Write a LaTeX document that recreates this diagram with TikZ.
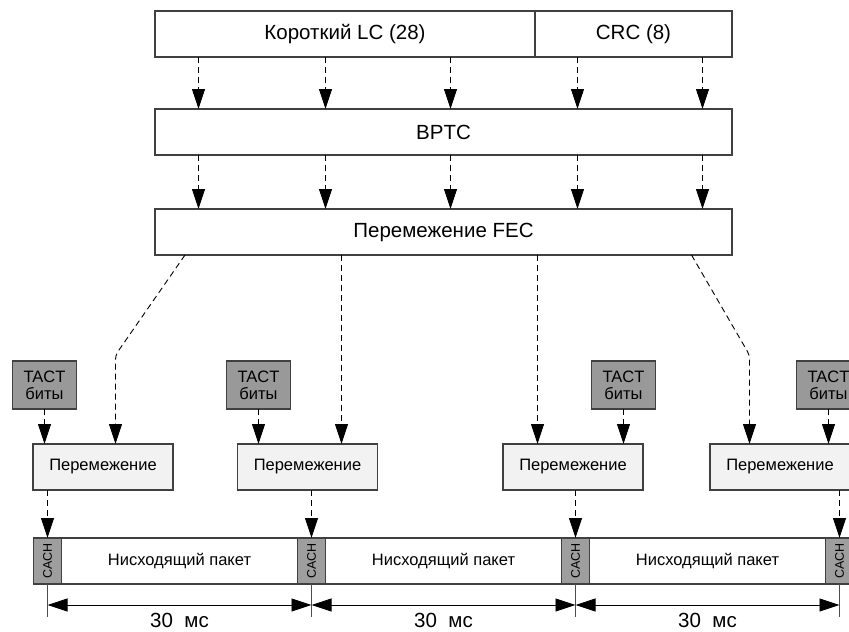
\documentclass[tikz,border=0pt]{standalone}
\usepackage{fontspec}
\setmainfont{Liberation Sans}
\usetikzlibrary{positioning}
\usetikzlibrary{arrows.meta}
\tikzset{>={Triangle[width=13pt,length=20pt]}}

\begin{document}
\begin{tikzpicture}[x=1pt, y=-1pt, bignode/.style={rectangle, draw=black!75, fill=white, line width=1.2pt, minimum height=46pt, inner sep=0pt, outer sep=0pt, font=\fontsize{20.5}{24}\selectfont}, tactnode/.style={rectangle, draw=black!75, fill=black!40, line width=1.2pt, minimum width=64pt, minimum height=48pt, inner sep=0pt, outer sep=0pt, align=center, font=\fontsize{16.5}{17}\selectfont}, mixnode/.style={rectangle, draw=black!75, fill=black!5, line width=1.2pt, minimum width=140pt, minimum height=46pt, inner sep=0pt, outer sep=0pt, font=\fontsize{16.5}{20}\selectfont}, cachnode/.style={rectangle, draw=black!75, fill=black!38, line width=1.2pt, minimum width=28pt, minimum height=46pt, inner sep=0pt, outer sep=0pt, label={[rotate=90, font=\fontsize{12.5}{12.5}\selectfont]center:CACH}}, pktnode/.style={rectangle, draw=black!75, fill=white, line width=1.2pt, minimum width=236pt, minimum height=46pt, inner sep=0pt, outer sep=0pt, font=\fontsize{16.5}{20}\selectfont}, flow/.style={->, dash pattern=on 6pt off 4pt, line width=0.9pt, black}]
    \useasboundingbox (0,0) rectangle (849,632);

    %Nodes
    \node[bignode, minimum width=577pt](bptc) at (443.5,132){BPTC};
    \node[bignode, minimum width=380pt, anchor=south west](shortlc) at ([yshift=52pt]bptc.north west){Короткий LC (28)};
    \node[bignode, minimum width=197pt](crc)[right=0pt of shortlc]{CRC (8)};
    \node[bignode, minimum width=577pt](fec)[below=54pt of bptc]{Перемежение FEC};

    \node[tactnode](tact1) at (44.5,385){TACT\\биты};
    \node[tactnode](tact2) at (258.5,385){TACT\\биты};
    \node[tactnode](tact3) at (623.5,385){TACT\\биты};
    \node[tactnode](tact4) at (828.5,385){TACT\\биты};

    \node[mixnode](mix1) at (103,467){Перемежение};
    \node[mixnode](mix2) at (307.5,467){Перемежение};
    \node[mixnode](mix3) at (573,467){Перемежение};
    \node[mixnode](mix4) at (780,467){Перемежение};

    \node[cachnode](cach1) at (47.5,561){};
    \node[pktnode](pkt1)[right=0pt of cach1]{Нисходящий пакет};
    \node[cachnode](cach2)[right=0pt of pkt1]{};
    \node[pktnode](pkt2)[right=0pt of cach2]{Нисходящий пакет};
    \node[cachnode](cach3)[right=0pt of pkt2]{};
    \node[pktnode](pkt3)[right=0pt of cach3]{Нисходящий пакет};
    \node[cachnode](cach4)[right=0pt of pkt3]{};

    %Lines
    \foreach \x in {198.5,325.5,450.5,577.5,702.5} {
        \draw[flow] (\x,0 |- shortlc.south) -- (\x,0 |- bptc.north);
        \draw[flow] (\x,0 |- bptc.south) -- (\x,0 |- fec.north);
    }
    \draw[flow, rounded corners=4pt] (185,0 |- fec.south) -- (115.5,355) -- (115.5,0 |- mix1.north);
    \draw[flow] (341.5,0 |- fec.south) -- (341.5,0 |- mix2.north);
    \draw[flow] (537.5,0 |- fec.south) -- (537.5,0 |- mix3.north);
    \draw[flow, rounded corners=4pt] (691.5,0 |- fec.south) -- (749.5,355) -- (749.5,0 |- mix4.north);
    \foreach \i in {1,...,4} {
        \draw[flow] (tact\i.south) -- (tact\i.south |- mix\i.north);
        \draw[flow] (cach\i.north |- mix\i.south) -- (cach\i.north);
        \draw[black!70, line width=0.9pt] (cach\i.south) -- ++(0,33);
    }
    \foreach \i/\j in {1/2,2/3,3/4}
        \draw[<->, black, line width=0.9pt] ([yshift=-21pt]cach\i.south) -- ([yshift=-21pt]cach\j.south) node[midway, below=8pt, inner sep=0pt, font=\fontsize{20.5}{24}\selectfont]{30~~мс};

\end{tikzpicture}
\end{document}
